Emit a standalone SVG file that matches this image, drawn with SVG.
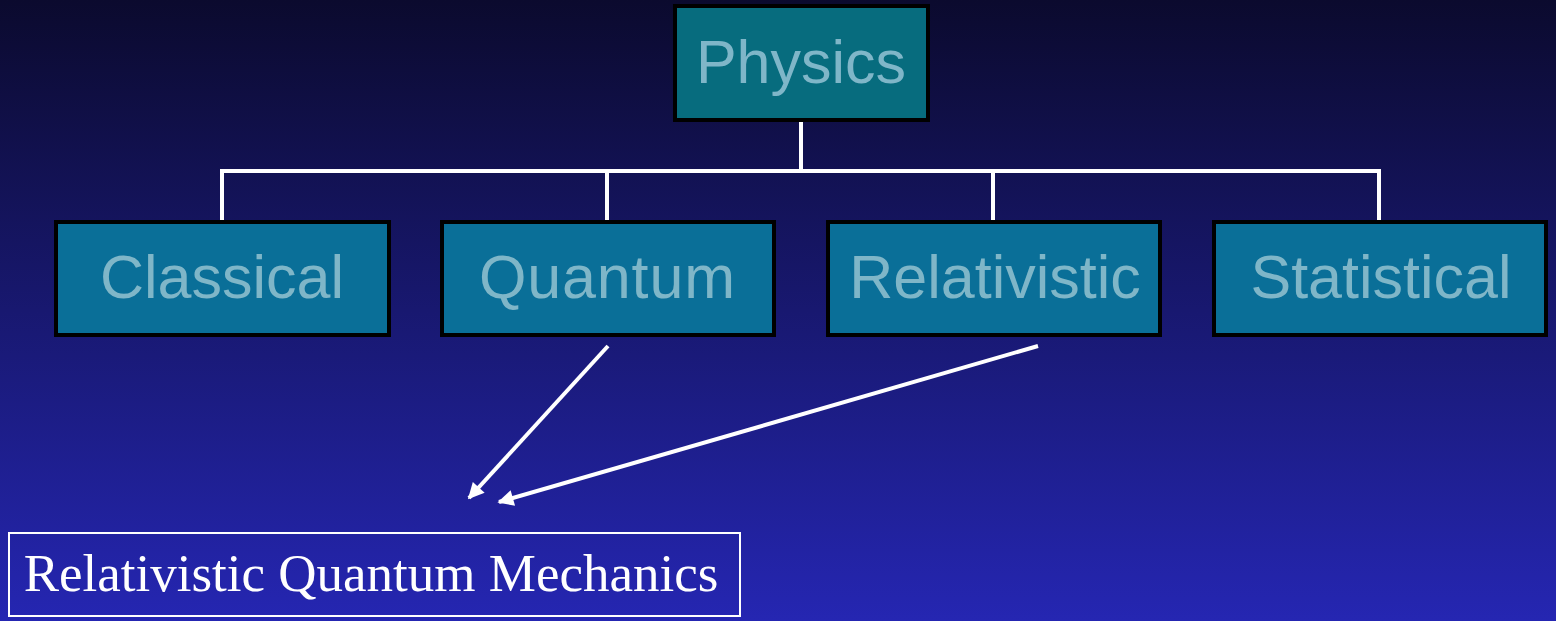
<svg xmlns="http://www.w3.org/2000/svg" width="1556" height="621" viewBox="0 0 1556 621">
<style>
.box{stroke:#000;stroke-width:4}
.lbl{font-family:"Liberation Sans",Arial,sans-serif;font-size:61px;fill:#7fb6c8;text-anchor:middle}
.ln{stroke:#fff;stroke-width:4;fill:none}
</style>
<defs>
<linearGradient id="bg" x1="0" y1="0" x2="0" y2="1">
<stop offset="0" stop-color="#0b0a2e"/>
<stop offset="1" stop-color="#2526b2"/>
</linearGradient>
<marker id="ah" viewBox="0 0 10 10" refX="9" refY="5" markerWidth="5" markerHeight="4" orient="auto" markerUnits="strokeWidth">
<path d="M0,0 L10,5 L0,10 z" fill="#fff"/>
</marker>
</defs>
<rect x="0" y="0" width="1556" height="621" fill="url(#bg)"/>
<g id="connectors">
<path class="ln" d="M801,122 V171"/>
<path class="ln" d="M222,220 V171 H1379 V220"/>
<path class="ln" d="M607,171 V220"/>
<path class="ln" d="M993,171 V220"/>
<path class="ln" d="M608,346 L469,498" marker-end="url(#ah)"/>
<path class="ln" d="M1038,346 L499,502" marker-end="url(#ah)"/>
</g>
<g id="physics">
<rect class="box" x="675" y="6" width="253" height="114" fill="#076c7e"/>
<text class="lbl" x="801" y="83">Physics</text>
</g>
<g id="classical">
<rect class="box" x="56" y="222" width="333" height="113" fill="#0a6f98"/>
<text class="lbl" x="222" y="298">Classical</text>
</g>
<g id="quantum">
<rect class="box" x="442" y="222" width="332" height="113" fill="#0a6f98"/>
<text class="lbl" x="607" y="298" textLength="256" lengthAdjust="spacing">Quantum</text>
</g>
<g id="relativistic">
<rect class="box" x="828" y="222" width="332" height="113" fill="#0a6f98"/>
<text class="lbl" x="995" y="298">Relativistic</text>
</g>
<g id="statistical">
<rect class="box" x="1214" y="222" width="332" height="113" fill="#0a6f98"/>
<text class="lbl" x="1381" y="298">Statistical</text>
</g>
<g id="rqm">
<rect x="9" y="533" width="731" height="83" fill="none" stroke="#fff" stroke-width="2"/>
<text x="371" y="591" font-family="'Liberation Serif','Times New Roman',serif" font-size="53" fill="#fff" text-anchor="middle">Relativistic Quantum Mechanics</text>
</g>
</svg>
